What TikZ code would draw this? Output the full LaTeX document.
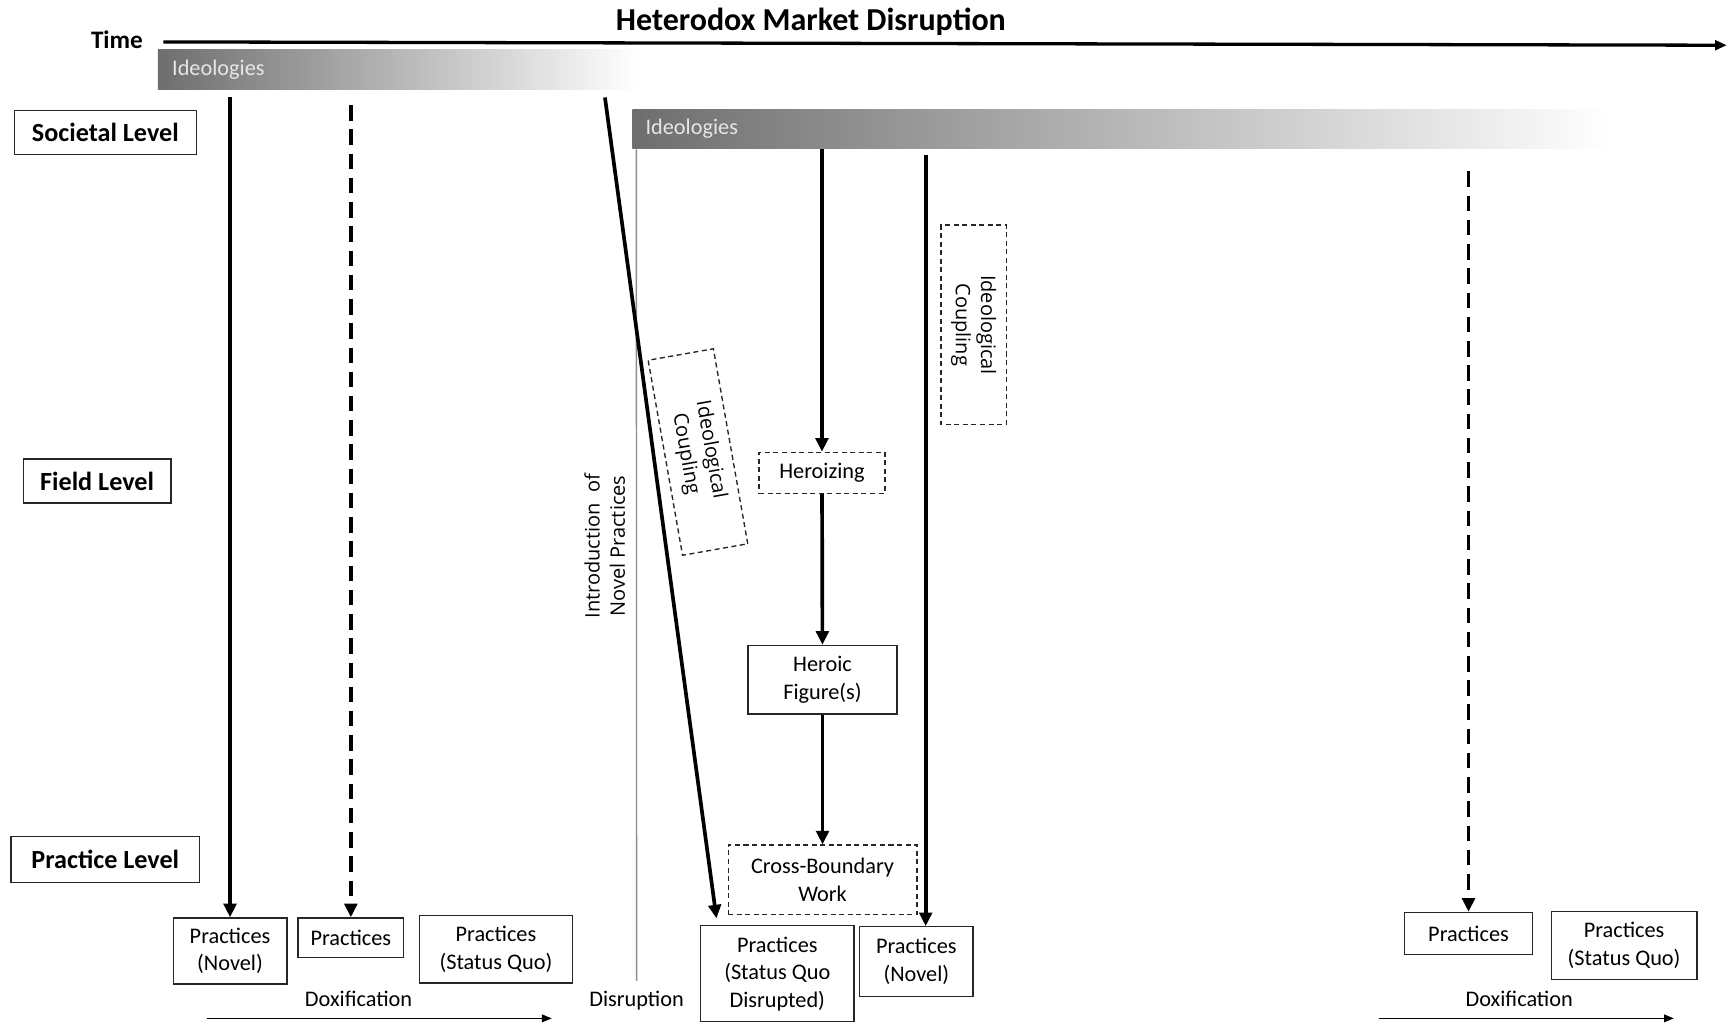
\documentclass[tikz,border=0pt]{standalone}
\usepackage{fontspec}
\setmainfont{Carlito}
\newfontfamily\rotfont{Open Sans}
\usetikzlibrary{arrows.meta,positioning,calc}
\definecolor{barleft}{HTML}{6E6E6E}
\definecolor{barright}{HTML}{FFFFFF}
\definecolor{bartext}{HTML}{E6E6E6}
\definecolor{divgray}{HTML}{8C8C8C}

\begin{document}
\begin{tikzpicture}[
        x=0.02cm, y=-0.02cm,
        box/.style={
          draw=black!85,
          line width=0.7pt,
          align=center,
          inner sep=0pt,
          font=\fontsize{11.5}{14.2}\selectfont
        },
        dbox/.style={
          box,
          dash pattern=on 2.6pt off 1.8pt
        },
        rotbox/.style={
          dbox,
          font=\rotfont\fontsize{10.3}{13}\selectfont
        },
        level/.style={
          draw=black!85,
          line width=0.7pt,
          inner sep=0pt,
          font=\fontsize{13.5}{16}\selectfont\bfseries
        },
        bar/.style={
          left color=barleft,
          right color=barright,
          inner sep=0pt,
          minimum height=0.72cm
        },
        barlabel/.style={
          inner sep=0pt,
          text=bartext,
          font=\fontsize{11.5}{14}\selectfont
        },
        arrow/.style={
          -{Triangle[length=7pt,width=6.5pt]},
          line width=1.9pt
        },
        darrow/.style={
          arrow,
          dash pattern=on 8pt off 4.5pt
        },
        thinarrow/.style={
          -{Triangle[length=5pt,width=4pt]},
          line width=0.6pt
        },
        note/.style={
          inner sep=0pt,
          font=\fontsize{11.5}{14}\selectfont
        }
      ]

      \useasboundingbox (0,0) rectangle (1568,932);

      \node[font=\fontsize{16.5}{20}\selectfont\bfseries] (title) at (735,20) {Heterodox Market Disruption};
      \node[font=\fontsize{13}{16}\selectfont\bfseries] (time) at (106,36) {Time};
      \coordinate (timeend) at (1565,41);
      \draw[-{Triangle[length=6pt,width=5pt]}, line width=1.7pt] (148,38) -- (timeend);

      \node[bar, minimum width=8.7cm] (ideo1) at (360.5,63) {};
      \node[barlabel, right=0.26cm of ideo1.west] {Ideologies};
      \node[bar, minimum width=17.74cm] (ideo2) at (1016.5,117) {};
      \node[barlabel, right=0.24cm of ideo2.west] {Ideologies};

      \node[level, minimum width=3.3cm, minimum height=0.8cm] (societal) at (95.5,120) {Societal Level};
      \node[level, minimum width=2.68cm, minimum height=0.8cm] (field) at (88,436) {Field Level};
      \node[level, minimum width=3.42cm, minimum height=0.84cm] (practice) at (95.5,779) {Practice Level};

      \node[box, minimum width=2.06cm, minimum height=1.2cm] (novA) at (208.5,862) {Practices\\(Novel)};
      \node[box, minimum width=1.92cm, minimum height=0.72cm] (pracA) at (318,850) {Practices};
      \node[box, minimum width=2.78cm, minimum height=1.22cm] (sqA) at (449.5,860.5) {Practices\\(Status Quo)};
      \node[box, minimum width=2.78cm, minimum height=1.74cm] (sqd) at (704.5,882.5) {Practices\\(Status Quo\\Disrupted)};
      \node[box, minimum width=2.06cm, minimum height=1.26cm] (novB) at (830.5,871.5) {Practices\\(Novel)};
      \node[box, minimum width=2.32cm, minimum height=0.76cm] (pracB) at (1331,846) {Practices};
      \node[box, minimum width=2.64cm, minimum height=1.24cm] (sqB) at (1472,857) {Practices\\(Status Quo)};

      \node[dbox, minimum width=2.28cm, minimum height=0.74cm] (heroizing) at (745,428.5) {Heroizing};
      \node[box, minimum width=2.7cm, minimum height=1.24cm] (figure) at (745.5,616) {Heroic\\Figure(s)};
      \node[dbox, minimum width=3.42cm, minimum height=1.26cm] (crossing) at (745.5,797.5) {Cross-Boundary\\Work};

      \node[rotbox, rotate=-80, minimum width=3.59cm, minimum height=1.2cm] (coupling1) at (632.6,409.7) {Ideological\\Coupling};
      \node[rotbox, rotate=-90, minimum width=3.62cm, minimum height=1.18cm] (coupling2) at (882.5,294.5) {Ideological\\Coupling};
      \node[inner sep=0pt, align=center, rotate=90, font=\rotfont\fontsize{10.3}{13}\selectfont] (intro) at (548,495) {Introduction~~of\\Novel Practices};

      \node[note] (doxA) at (325,905) {Doxification};
      \node[note] (disr) at (577,907) {Disruption};
      \node[note] (doxB) at (1377,905) {Doxification};
      \coordinate (doxAstart) at (188,923);
      \coordinate (doxAend) at (500,923);
      \coordinate (doxBstart) at (1250,923);
      \coordinate (doxBend) at (1517,923);

      \draw[divgray, line width=0.7pt] ($(ideo2.south west)+(4,0)$) -- ($(disr.north)+(0,-9)$);

      \draw[arrow] ([yshift=-0.14cm]ideo1.south -| novA.north) -- (novA.north);
      \draw[darrow] ([yshift=-0.28cm]ideo1.south -| pracA.north) -- (pracA.north);
      \draw[arrow] ($(ideo1.south east)+(-30,7)$) -- ($(sqd.north west)+(15,-6)$);
      \draw[arrow] (ideo2.south -| heroizing.north) -- (heroizing.north);
      \draw[arrow] (heroizing) -- (figure);
      \draw[arrow] (figure) -- (crossing);
      \draw[arrow] ($(ideo2.south -| novB.north)+(8.5,5)$) -- ($(novB.north)+(8.5,0)$);
      \draw[darrow] ([yshift=-0.4cm]ideo2.south -| pracB.north) -- (pracB.north);
      \draw[thinarrow] (doxAstart) -- (doxAend);
      \draw[thinarrow] (doxBstart) -- (doxBend);

      \end{tikzpicture}
\end{document}
